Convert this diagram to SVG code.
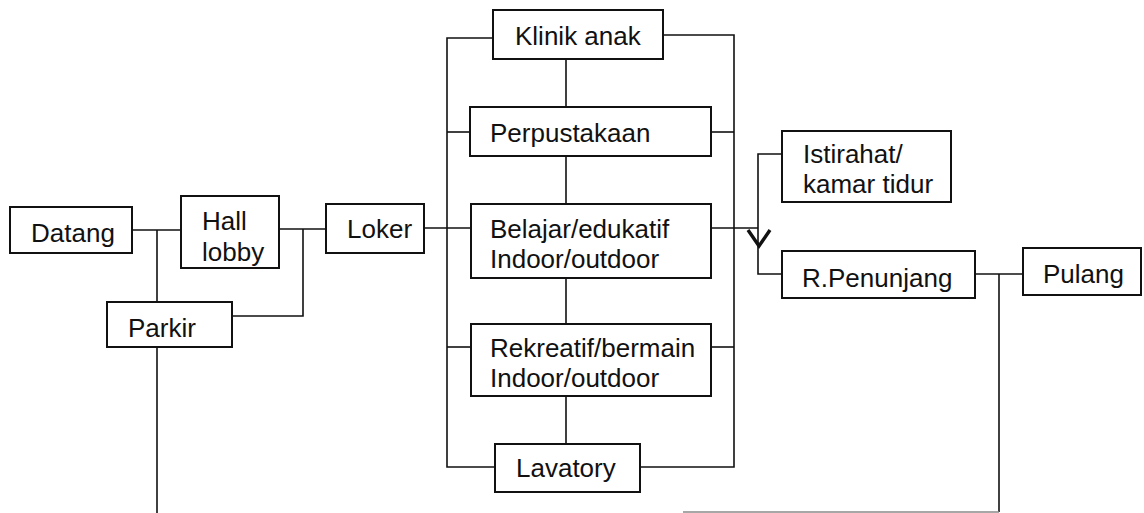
<svg xmlns="http://www.w3.org/2000/svg" width="1144" height="513" viewBox="0 0 1144 513">
  <style>
    .box { fill: #fff; stroke: #111; stroke-width: 2; }
    .lbl { font-family: "Liberation Sans", Arial, sans-serif; font-size: 26px; fill: #111; }
    .wire { fill: none; stroke: #111; stroke-width: 1.6; }
    .faint { fill: none; stroke: #8a8a8a; stroke-width: 1.4; }
    .head { fill: none; stroke: #111; stroke-width: 3.4; stroke-linejoin: miter; }
  </style>
  <rect width="1144" height="513" fill="#fff"/>

  <!-- connectors -->
  <g id="connectors">
    <path class="wire" d="M133,230 H181"/>
    <path class="wire" d="M157,230 V302"/>
    <path class="wire" d="M157,347 V513"/>
    <path class="wire" d="M279,229 H326"/>
    <path class="wire" d="M303,229 V316 H232"/>
    <path class="wire" d="M424,228 H471"/>
    <!-- left bus -->
    <path class="wire" d="M493,38 H447 V467 H495"/>
    <path class="wire" d="M447,132 H470"/>
    <path class="wire" d="M447,347 H471"/>
    <!-- right bus -->
    <path class="wire" d="M663,35 H734 V467 H640"/>
    <path class="wire" d="M711,132 H734"/>
    <path class="wire" d="M711,347 H734"/>
    <!-- centre spine -->
    <path class="wire" d="M566,59 V107 M566,156 V204 M566,278 V324 M566,396 V444"/>
    <!-- towards rest / support rooms -->
    <path class="wire" d="M711,228 H758"/>
    <path class="wire" d="M782,154 H758 V274 H782"/>
    <polyline class="head" points="748,230 759,246 770,230"/>
    <path class="wire" d="M975,274 H1023"/>
    <path class="wire" d="M999,274 V512"/>
    <path class="faint" d="M999,512 H683"/>
  </g>

  <g id="datang">
    <rect class="box" x="10" y="207" width="122" height="46"/>
    <text class="lbl" x="31" y="242" font-size="27">Datang</text>
  </g>
  <g id="hall-lobby">
    <rect class="box" x="181" y="196" width="98" height="72"/>
    <text class="lbl" x="202" y="230">Hall</text>
    <text class="lbl" x="202" y="261">lobby</text>
  </g>
  <g id="parkir">
    <rect class="box" x="107" y="302" width="125" height="45"/>
    <text class="lbl" x="128" y="337">Parkir</text>
  </g>
  <g id="loker">
    <rect class="box" x="326" y="204" width="98" height="49"/>
    <text class="lbl" x="347" y="238">Loker</text>
  </g>
  <g id="klinik-anak">
    <rect class="box" x="493" y="10" width="170" height="49"/>
    <text class="lbl" x="515" y="45">Klinik anak</text>
  </g>
  <g id="perpustakaan">
    <rect class="box" x="470" y="107" width="241" height="49"/>
    <text class="lbl" x="490" y="142">Perpustakaan</text>
  </g>
  <g id="belajar">
    <rect class="box" x="471" y="204" width="240" height="74"/>
    <text class="lbl" x="490" y="238">Belajar/edukatif</text>
    <text class="lbl" x="490" y="268">Indoor/outdoor</text>
  </g>
  <g id="rekreatif">
    <rect class="box" x="471" y="324" width="240" height="72"/>
    <text class="lbl" x="490" y="357">Rekreatif/bermain</text>
    <text class="lbl" x="490" y="387">Indoor/outdoor</text>
  </g>
  <g id="lavatory">
    <rect class="box" x="495" y="444" width="145" height="48"/>
    <text class="lbl" x="516" y="477">Lavatory</text>
  </g>
  <g id="istirahat">
    <rect class="box" x="782" y="131" width="169" height="71"/>
    <text class="lbl" x="803" y="163" font-size="25">Istirahat/</text>
    <text class="lbl" x="803" y="193" font-size="25">kamar tidur</text>
  </g>
  <g id="r-penunjang">
    <rect class="box" x="782" y="251" width="193" height="47"/>
    <text class="lbl" x="802" y="287">R.Penunjang</text>
  </g>
  <g id="pulang">
    <rect class="box" x="1023" y="248" width="118" height="47"/>
    <text class="lbl" x="1043" y="283">Pulang</text>
  </g>
</svg>
